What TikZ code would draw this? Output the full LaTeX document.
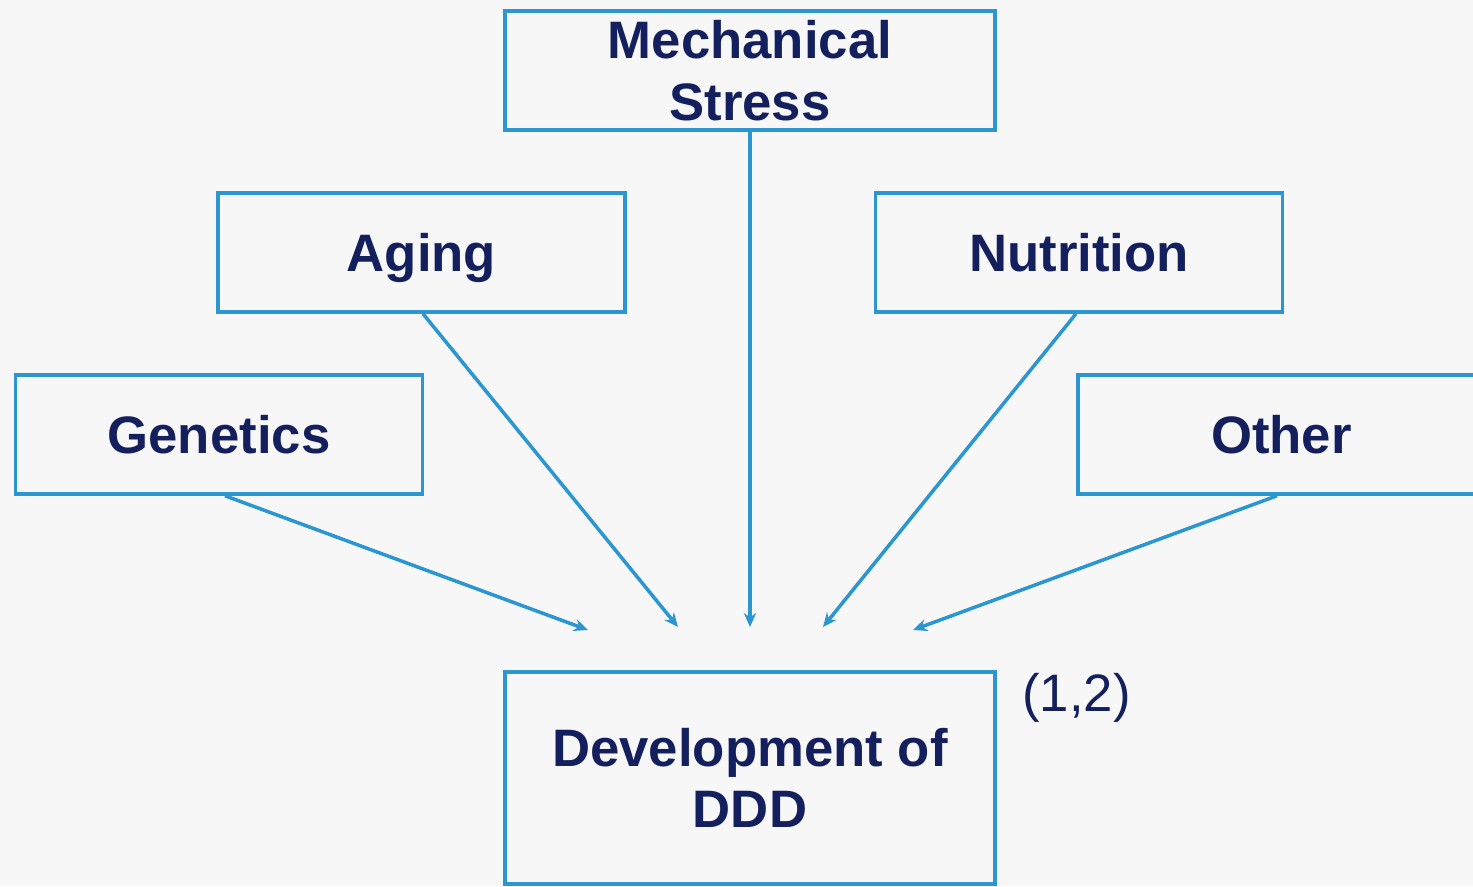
\documentclass[tikz,border=0pt]{standalone}
\usepackage{fontspec}
\setmainfont{Liberation Sans}
\usepackage{xcolor}
\usetikzlibrary{arrows.meta}
\definecolor{boxblue}{HTML}{2B96CF}
\definecolor{navy}{HTML}{14205E}
\definecolor{bg}{HTML}{F7F7F7}
\tikzset{
	factor/.style={draw=boxblue, line width=2pt, minimum width=407*0.02cm, minimum height=119*0.02cm, inner sep=0pt, align=center, text=navy, font=\fontsize{30}{35}\selectfont\bfseries},
	link/.style={draw=boxblue, line width=2pt, -{Stealth[length=8pt,width=7pt]}}
}
\begin{document}
\begin{tikzpicture}[x=0.02cm, y=-0.02cm]
		\useasboundingbox (0,0) rectangle (1473,886);
		\clip (0,0) rectangle (1473,886);
		\fill[bg] (0,0) rectangle (1473,886);
		\node[factor, minimum width=490*0.02cm] (mech) at (750,70.5) {Mechanical\\Stress};
		\node[factor, text depth=0pt] (aging) at (421.5,252.5) {Aging};
		\node[factor] (nutr) at (1079,252.5) {Nutrition};
		\node[factor] (gen) at (219,434.5) {Genetics};
		\node[factor] (other) at (1281.5,434.5) {Other};
		\node[factor, minimum width=490*0.02cm, minimum height=212*0.02cm] (ddd) at (750,778) {Development of\\DDD};
		\node[anchor=west, text=navy, font=\fontsize{30}{35}\selectfont] (ref) at (1016,698) {(1,2)};
		\coordinate (e1) at (588,630);
		\coordinate (e2) at (678,627);
		\coordinate (e3) at (750,627);
		\coordinate (e4) at (823,627);
		\coordinate (e5) at (913,630);
		\draw[link] ([xshift=6*0.02cm]gen.south) -- (e1);
		\draw[link] ([xshift=1.5*0.02cm]aging.south) -- (e2);
		\draw[link] (mech.south) -- (e3);
		\draw[link] ([xshift=-3*0.02cm]nutr.south) -- (e4);
		\draw[link] ([xshift=-4.5*0.02cm]other.south) -- (e5);
	\end{tikzpicture}
\end{document}
